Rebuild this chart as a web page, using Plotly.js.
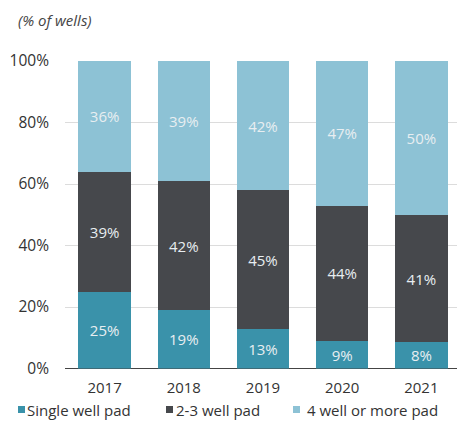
<!DOCTYPE html>
<html><head><meta charset="utf-8">
<script src="https://cdn.plot.ly/plotly-3.0.1.min.js"></script>
<style>body{margin:0;background:#fff}#c{width:457px;height:422px}</style>
</head><body><div id="c"></div>
<script>
const years = ['2017','2018','2019','2020','2021'];
// segment heights (percent of wells)
const singlePad = [25,19,12.7,9.1,8.5];
const twoThreePad = [39,42,45.3,43.9,41.3];
const fourPlusPad = [36,39,42,47,50.2];
// printed labels
const singleLabels = ['25%','19%','13%','9%','8%'];
const twoThreeLabels = ['39%','42%','45%','44%','41%'];
const fourPlusLabels = ['36%','39%','42%','47%','50%'];
const seriesNames = ['Single well pad','2-3 well pad','4 well or more pad'];
const yTickVals = [0,20,40,60,80,100];
const yTickText = ['0%','20%','40%','60%','80%','100%'];
const colors = ['#3a92aa','#46484c','#8dc2d5'];
const font = 'Open Sans, Lato, sans-serif';
const W=457,H=422,L=65;
const px=x=>(x-L)/(W-L), py=y=>(H-y)/H;
function tr(vals, labels, i){
  return {type:'bar', x:years, y:vals, name:seriesNames[i], marker:{color:colors[i]},
    width:0.66, text:labels, textposition:'inside', insidetextanchor:'middle',
    textfont:{color:'#e8eef1', size:15, family:font}, hoverinfo:'none', constraintext:'none', showlegend:false};
}
const data=[tr(singlePad,singleLabels,0),tr(twoThreePad,twoThreeLabels,1),tr(fourPlusPad,fourPlusLabels,2)];
const legendItems=[{sq:18,tx:25},{sq:166,tx:174},{sq:293,tx:305}];
const shapes=[], annotations=[];
legendItems.forEach((it,i)=>{
  shapes.push({type:'rect',xref:'paper',yref:'paper',x0:px(it.sq),x1:px(it.sq+7),y0:py(413),y1:py(406),fillcolor:colors[i],line:{width:0}});
  annotations.push({text:seriesNames[i],xref:'paper',yref:'paper',x:px(it.tx),y:py(410),xanchor:'left',yanchor:'middle',showarrow:false,font:{size:15,color:'#333'}});
});
annotations.push({text:'<i>(% of wells)</i>',xref:'paper',yref:'paper',x:px(16),y:py(20),xanchor:'left',yanchor:'middle',showarrow:false,font:{size:15,color:'#444'}});
const layout={
  width:W,height:H,barmode:'stack',showlegend:false,
  margin:{l:L,r:0,t:0,b:0},
  paper_bgcolor:'#fff',plot_bgcolor:'#fff',
  font:{family:font,color:'#333',size:14},
  xaxis:{type:'category',range:[-0.5,4.45],showgrid:false,ticks:'',showline:false,zeroline:false,tickfont:{size:15,color:'#333'},ticklabelstandoff:8},
  yaxis:{domain:[py(368.5),py(61)],range:[0,100],tickvals:yTickVals,ticktext:yTickText,
    showgrid:true,gridcolor:'#dcdcdc',gridwidth:1,zeroline:true,zerolinecolor:'#444',zerolinewidth:1.5,ticks:'',ticklabelstandoff:15,tickfont:{size:15.5,color:'#333'}},
  shapes:shapes, annotations:annotations
};
Plotly.newPlot('c',data,layout,{displayModeBar:false,staticPlot:true});
</script></body></html>
